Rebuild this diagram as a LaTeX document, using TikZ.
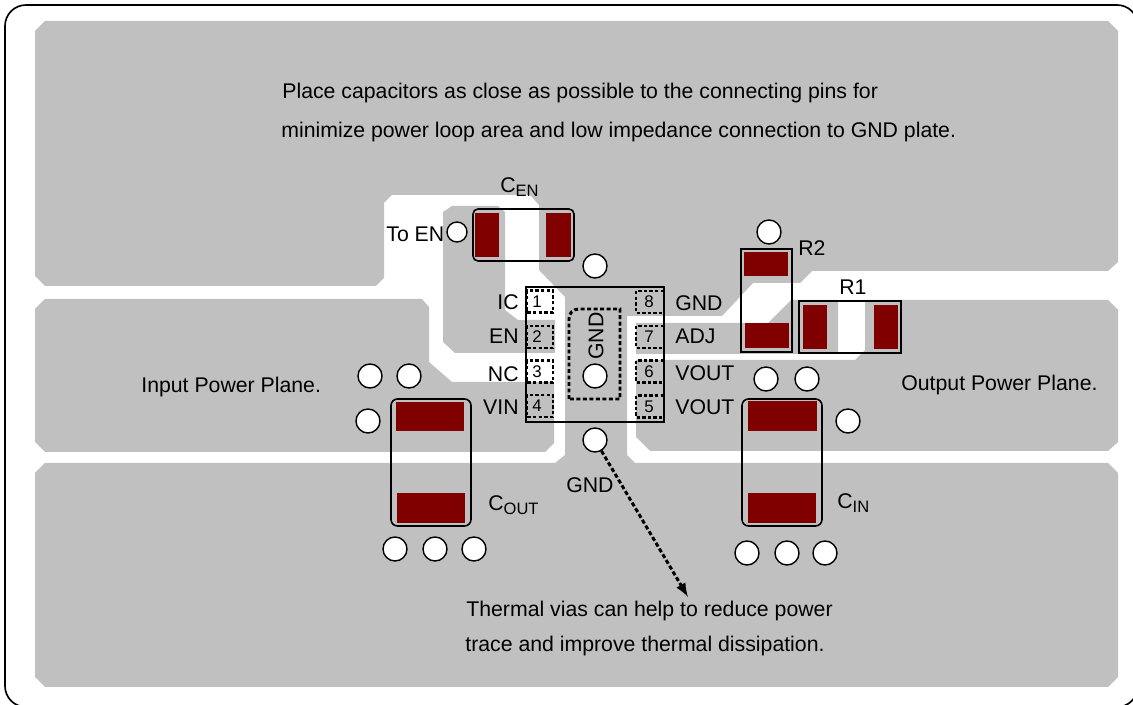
\documentclass[tikz,border=0pt]{standalone}
\usepackage{fontspec}
\setmainfont{Liberation Sans}
\definecolor{planegray}{RGB}{192,192,192}
\definecolor{padred}{RGB}{128,0,0}
\newcommand{\lowsub}[1]{\raisebox{-.35ex}{\fontsize{9.4}{10}\selectfont #1}}
\tikzset{
  plane/.style={fill=planegray},
  padred/.style={fill=padred},
  outline/.style={draw=black,line width=.9pt},
  chip/.style={draw=black,line width=.65pt},
  pinbox/.style={draw=black,line width=1.15pt,dash pattern=on 1.9pt off 1.3pt},
  gndpad/.style={draw=black,line width=1.7pt,dash pattern=on 2.2pt off 1.5pt},
  via/.style={circle,draw=black,fill=white,line width=.8pt,inner sep=0pt,minimum size=.48cm},
  lbl/.style={anchor=base west,inner sep=0pt,font=\fontsize{12.1}{14}\selectfont},
  lblr/.style={anchor=base east,inner sep=0pt,font=\fontsize{12.1}{14}\selectfont},
  pinnum/.style={inner sep=0pt,font=\fontsize{9.6}{10}\selectfont},
}

\begin{document}
\begin{tikzpicture}[x=0.02cm,y=-0.02cm]
\clip (0,0) rectangle (1133,705);

% board edge
\draw[line width=.95pt,rounded corners=.42cm] (5,5) rectangle (1138,707);

% ground plane, top and bottom joined under the chip
\path[plane] (35,31) -- (45,21) -- (1108,21) -- (1118,31) -- (1118,262) -- (1108,271)
  -- (812,271) -- (800,283) -- (753,283) -- (722,316) -- (627,316) -- (627,455) -- (635,463)
  -- (1108,463) -- (1118,473) -- (1118,677) -- (1108,687) -- (45,687) -- (35,677) -- (35,473)
  -- (45,463) -- (555,463) -- (565,455) -- (565,297) -- (539,270) -- (539,205) -- (530,195)
  -- (392,195) -- (384,203) -- (384,278) -- (376,286) -- (45,286) -- (35,276) -- cycle;

% input plane
\path[plane] (35,309) -- (45,299) -- (422,299) -- (429,307) -- (429,362) -- (452,382)
  -- (554,382) -- (554,443) -- (545,452) -- (45,452) -- (35,442) -- cycle;

% output plane
\path[plane] (636,360) -- (855,360) -- (865,350) -- (865,300) -- (1108,300) -- (1118,310)
  -- (1118,442) -- (1108,451) -- (650,451) -- (636,437) -- cycle;

% EN island
\path[plane] (443,212) -- (452,206) -- (498,206) -- (505,212) -- (505,310) -- (518,320)
  -- (555,320) -- (555,353) -- (455,353) -- (443,342) -- cycle;

% ADJ island
\path[plane] (636,323) -- (768,323) -- (791,300) -- (838,300) -- (838,354) -- (636,354) -- cycle;

% chip
\draw[chip] (526,287) rectangle (664,422);
\foreach\n/\y in {1/301.5, 2/337, 3/371.5, 4/406}{
  \draw[pinbox] (527,\y-11) rectangle (553,\y+11);
  \node[pinnum] (pin\n) at (537,\y) {\n};
}
\foreach\n/\y in {8/302, 7/337, 6/371.5, 5/406.5}{
  \draw[pinbox] (664,\y-11) -- (636,\y-11) -- (636,\y+11) -- (664,\y+11);
  \node[pinnum] (pin\n) at (649,\y) {\n};
}
\draw[gndpad] (569,399) -- (569,319) .. controls (569,313) and (573,309) .. (579,309) -- (620,309) -- (620,399) -- cycle;
\node[lbl,rotate=90,anchor=center] (padgnd) at (596,336) {GND};

% capacitors and resistors
\draw[outline,rounded corners=.1cm] (473,209) rectangle (574,261);
\fill[padred] (475,213) rectangle (499,257);
\fill[padred] (546,213) rectangle (571,257);

\draw[outline] (741,249) rectangle (792,352);
\fill[padred] (744,252) rectangle (788,276);
\fill[padred] (745,323) rectangle (789,348);

\draw[outline] (799,301) rectangle (901,353);
\fill[padred] (803,305) rectangle (827,349);
\fill[padred] (874,305) rectangle (898,349);

\draw[outline,rounded corners=.13cm] (391,399) rectangle (471,526);
\fill[padred] (396,402) rectangle (464,431);
\fill[padred] (397,493) rectangle (465,523);

\draw[outline,rounded corners=.13cm] (742,399) rectangle (822,526);
\fill[padred] (748,401) rectangle (817,431);
\fill[padred] (748,493) rectangle (816,523);

% vias
\foreach\n/\x/\y in {a/595/266, b/769/232, c/370/376, d/409/376, e/368/421, f/395/549,
  g/435/549, h/474/549, i/766/379, j/807/379, k/848/421, l/747/553, m/787/553, n/825/553,
  center/595/376, below/595/440}
\node[via] (via\n) at (\x,\y) {};
\node[via,minimum size=.4cm] (viaen) at (457,232) {};

% thermal via note
\coordinate (arrowtip) at (688,597);
\draw[-latex,line width=1.7pt,dash pattern=on 2.4pt off 1.4pt] (viabelow) -- (arrowtip);

% labels
\node[lbl] (note1) at (282,99) {Place capacitors as close as possible to the connecting pins for};
\node[lbl] (note2) at (281,138) {minimize power loop area and low impedance connection to GND plate.};
\node[lbl] (cen) at (500,193) {C\lowsub{EN}};
\node[lbl] (toen) at (386,242) {To EN};
\node[lbl] (r2) at (798,256) {R2};
\node[lbl] (r1) at (839,295) {R1};
\node[lblr] (ic) at (519,310) {IC};
\node[lblr] (en) at (519,344) {EN};
\node[lblr] (nc) at (519,382) {NC};
\node[lblr] (vin) at (519,415) {VIN};
\node[lbl] (gnd) at (675,311) {GND};
\node[lbl] (adj) at (675,344) {ADJ};
\node[lbl] (vouta) at (675,381) {VOUT};
\node[lbl] (voutb) at (675,415) {VOUT};
\node[lbl] (input) at (141,393) {Input Power Plane.};
\node[lbl] (output) at (901,391) {Output Power Plane.};
\node[lbl] (cout) at (488,511) {C\lowsub{OUT}};
\node[lbl] (cin) at (837,509) {C\lowsub{IN}};
\node[lbl] (gndb) at (566,493) {GND};
\node[lbl] (note3) at (466,617) {Thermal vias can help to reduce power};
\node[lbl] (note4) at (465,652) {trace and improve thermal dissipation.};
\end{tikzpicture}
\end{document}
